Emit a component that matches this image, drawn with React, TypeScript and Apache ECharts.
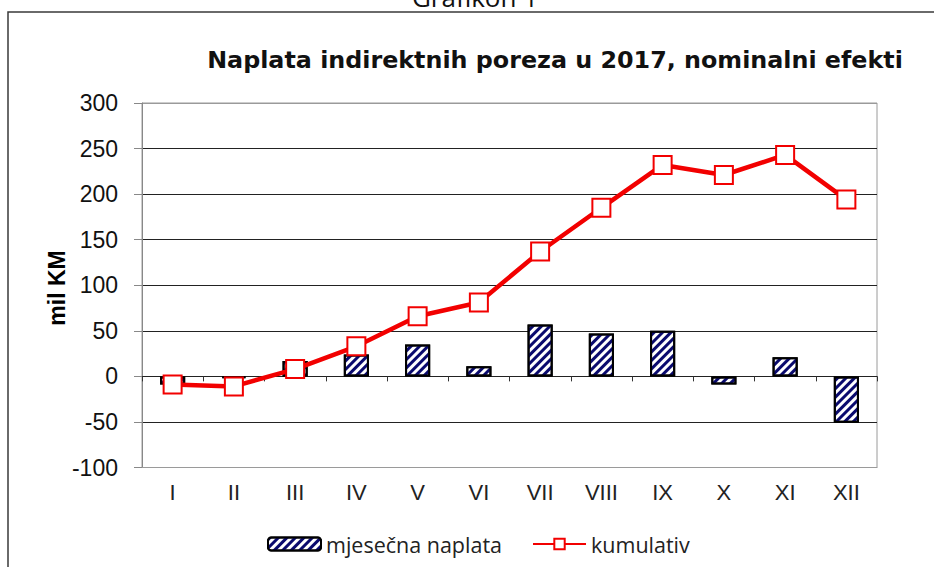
import React, { useEffect, useRef } from "react";
import * as echarts from "echarts";

const months = ["I", "II", "III", "IV", "V", "VI", "VII", "VIII", "IX", "X", "XI", "XII"];
const monthly = [-9, -2, 17, 24, 35, 11, 57, 47, 50, -9, 21, -51];
const cumulative = [-9, -11, 8, 33, 66, 81, 137, 185, 232, 221, 243, 194];
const yTicks = { min: -100, max: 300, interval: 50 };
const titleText = "Naplata indirektnih poreza u 2017, nominalni efekti";
const captionText = "Grafikon 1";
const yAxisName = "mil KM";
const seriesNames = ["mjesečna naplata", "kumulativ"];

export default function App() {
  const ref = useRef<HTMLDivElement>(null);
  useEffect(() => {
    if (!ref.current) return;
    const chart = echarts.init(ref.current, null, { renderer: "svg" });
    const gridCol = "#222";
    const edgeCol = "#9a9a9a";
    chart.setOption({
      animation: false,
      backgroundColor: "#fff",
      graphic: [
        {
          type: "rect",
          shape: { x: 8, y: 12, width: 1000, height: 700 },
          style: { fill: "none", stroke: "#3a3a3a", lineWidth: 1.5 },
          silent: true,
        },
        {
          type: "text",
          x: 475,
          y: -3,
          style: {
            text: captionText,
            fontFamily: "Open Sans",
            fontSize: 26,
            fill: "#111",
            align: "center",
            verticalAlign: "middle",
          },
        },
        {
          type: "text",
          x: 555,
          y: 60,
          style: {
            text: titleText,
            fontFamily: "DejaVu Sans",
            fontWeight: "bold",
            fontSize: 23.8,
            fill: "#111",
            align: "center",
            verticalAlign: "middle",
          },
        },
        {
          type: "text",
          x: 57,
          y: 288,
          rotation: Math.PI / 2,
          style: {
            text: yAxisName,
            fontFamily: "Liberation Sans",
            fontWeight: "bold",
            fontSize: 23,
            fill: "#000",
            align: "center",
            verticalAlign: "middle",
          },
        },
      ],
      grid: {
        left: 142,
        right: 57,
        top: 103,
        bottom: 99.5,
        show: true,
        borderColor: edgeCol,
        borderWidth: 1,
      },
      legend: {
        left: 262,
        top: 528,
        itemWidth: 53,
        itemHeight: 13,
        itemGap: 30,
        textStyle: { fontFamily: "Open Sans", fontSize: 21.5, color: "#222" },
        data: seriesNames,
      },
      xAxis: [
        {
          type: "category",
          data: months,
          position: "bottom",
          axisLine: { onZero: false, lineStyle: { color: edgeCol } },
          axisTick: { show: false },
          axisLabel: {
            fontFamily: "Liberation Sans",
            fontSize: 22,
            color: "#222",
            margin: 14,
          },
        },
        {
          type: "category",
          data: months,
          position: "bottom",
          axisLine: { onZero: true, lineStyle: { color: "#222", width: 1 } },
          axisTick: { show: true, length: 5, lineStyle: { color: "#333" } },
          axisLabel: { show: false },
        },
      ],
      yAxis: {
        type: "value",
        min: yTicks.min,
        max: yTicks.max,
        interval: yTicks.interval,
        axisLine: { show: true, lineStyle: { color: "#888" } },
        axisTick: { show: true, length: 8, lineStyle: { color: "#888" } },
        axisLabel: {
          fontFamily: "Liberation Sans",
          fontSize: 23,
          color: "#111",
          margin: 24,
        },
        splitLine: {
          show: true,
          lineStyle: {
            color: [edgeCol, gridCol, gridCol, gridCol, gridCol, gridCol, gridCol, gridCol, edgeCol],
            width: 1,
          },
        },
      },
      series: [
        {
          name: seriesNames[0],
          type: "bar",
          data: monthly,
          barWidth: "41%",
          itemStyle: {
            color: "#fff",
            borderColor: "#000",
            borderWidth: 2,
            decal: {
              symbol: "rect",
              symbolSize: 1,
              color: "#0a0a6e",
              backgroundColor: "#fff",
              dashArrayX: [1, 0],
              dashArrayY: [3, 3],
              rotation: -Math.PI / 4,
            },
          },
        },
        {
          name: seriesNames[1],
          type: "line",
          data: cumulative,
          symbol: "rect",
          symbolSize: 18,
          lineStyle: { color: "#f20000", width: 4.5 },
          itemStyle: { color: "#fff", borderColor: "#f20000", borderWidth: 2 },
        },
      ],
    });
    return () => chart.dispose();
  }, []);
  return (
    <div
      ref={ref}
      style={{ position: "absolute", left: 0, top: 0, width: 934, height: 567 }}
    />
  );
}
